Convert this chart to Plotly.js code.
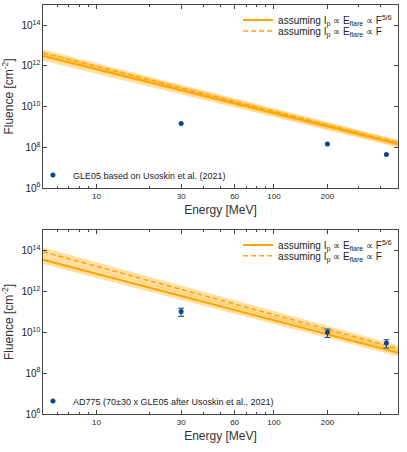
<!DOCTYPE html>
<html>
<head>
<meta charset="UTF-8">
<script src="https://cdn.plot.ly/plotly-3.0.1.min.js"></script>
<style>
  body { margin: 0; background: #fff; }
  #chart { width: 407px; height: 452px; }
</style>
</head>
<body>
<div id="chart"></div>
<script>
// energy end points of the model lines (MeV)
const lineE = [5, 500];

// top panel: GLE05
const topSolid = [3.1e12, 1.5e8];
const topSolidLo = [1.8e12, 1.0e8];
const topSolidHi = [5.0e12, 2.2e8];
const topDashed = [4.5e12, 1.65e8];
const topDashedLo = [2.8e12, 1.1e8];
const topDashedHi = [6.5e12, 2.3e8];

// bottom panel: AD775
const botSolid = [3.5e13, 1.0e9];
const botSolidLo = [2.2e13, 6.8e8];
const botSolidHi = [5.5e13, 1.5e9];
const botDashed = [8.7e13, 1.6e9];
const botDashedLo = [5.5e13, 1.1e9];
const botDashedHi = [1.4e14, 2.3e9];

// measured points
const pointE = [30, 200, 430];
const gle05 = [1.5e9, 1.45e8, 4.4e7];
const ad775 = [1.05e11, 1.0e10, 3.0e9];
const ad775Err = [4.5e10, 4.4e9, 1.3e9];

const orange = '#FFA500';
const band = 'rgba(255,172,10,0.38)';
const navy = '#0E4392';

const solidName = 'assuming I<sub>p</sub> ∝ E<sub>flare</sub> ∝ F<sup>5/6</sup>';
const dashedName = 'assuming I<sub>p</sub> ∝ E<sub>flare</sub> ∝ F';

function bandTraces(lo, hi, xa, ya) {
  return [
    { x: lineE, y: lo, xaxis: xa, yaxis: ya, mode: 'lines', line: { width: 0, color: band }, showlegend: false, hoverinfo: 'skip' },
    { x: lineE, y: hi, xaxis: xa, yaxis: ya, mode: 'lines', line: { width: 0, color: band }, fill: 'tonexty', fillcolor: band, showlegend: false, hoverinfo: 'skip' }
  ];
}

const data = [
  ...bandTraces(topSolidLo, topSolidHi, 'x', 'y'),
  ...bandTraces(topDashedLo, topDashedHi, 'x', 'y'),
  { x: lineE, y: topSolid, xaxis: 'x', yaxis: 'y', mode: 'lines', name: solidName, line: { color: orange, width: 2 }, legend: 'legend' },
  { x: lineE, y: topDashed, xaxis: 'x', yaxis: 'y', mode: 'lines', name: dashedName, line: { color: orange, width: 1.5, dash: '5px,3px' }, legend: 'legend2' },
  { x: pointE, y: gle05, xaxis: 'x', yaxis: 'y', mode: 'markers', name: 'GLE05 based on Usoskin et al. (2021)', marker: { color: navy, size: 5 }, legend: 'legend3' },

  ...bandTraces(botSolidLo, botSolidHi, 'x2', 'y2'),
  ...bandTraces(botDashedLo, botDashedHi, 'x2', 'y2'),
  { x: lineE, y: botSolid, xaxis: 'x2', yaxis: 'y2', mode: 'lines', name: solidName, line: { color: orange, width: 2 }, legend: 'legend4' },
  { x: lineE, y: botDashed, xaxis: 'x2', yaxis: 'y2', mode: 'lines', name: dashedName, line: { color: orange, width: 1.5, dash: '5px,3px' }, legend: 'legend5' },
  { x: pointE, y: ad775, xaxis: 'x2', yaxis: 'y2', mode: 'markers', name: 'AD775 (70±30 x GLE05 after Usoskin et al., 2021)',
    error_y: { type: 'data', array: ad775Err, color: navy, thickness: 1, width: 3 },
    marker: { color: navy, size: 5 }, legend: 'legend6' }
];

const fontFam = '"Liberation Sans", Arial, sans-serif';

function xAxis(anchor, dom) {
  return {
    type: 'log', range: [Math.log10(5), Math.log10(500)], domain: dom, anchor: anchor,
    tickmode: 'array', tickvals: [10, 30, 60, 100, 200], ticktext: ['10', '30', '60', '100', '200'],
    ticks: 'inside', ticklen: 4, tickcolor: '#444',
    minor: { tickmode: 'array', tickvals: [6, 7, 8, 9, 20, 40, 50, 70, 80, 90, 300, 400], ticks: 'inside', ticklen: 2, tickcolor: '#444' },
    showline: true, linecolor: '#444', linewidth: 1, mirror: 'ticks', showgrid: false, zeroline: false,
    tickfont: { size: 8, color: '#222' },
    title: { text: 'Energy [MeV]', font: { size: 12, color: '#333' }, standoff: 5 }
  };
}
function yAxis(anchor, dom) {
  return {
    type: 'log', range: [6, 15], domain: dom, anchor: anchor, dtick: 2, exponentformat: 'power',
    ticks: 'inside', ticklen: 4, tickcolor: '#444',
    showline: true, linecolor: '#444', linewidth: 1, mirror: 'ticks', showgrid: false, zeroline: false,
    tickfont: { size: 8, color: '#222' },
    title: { text: 'Fluence [cm<sup>-2</sup>]', font: { size: 12, color: '#333' }, standoff: 7 }
  };
}

function legendAt(x, y, size) {
  return { x: x, y: y, xanchor: 'left', yanchor: 'middle', bgcolor: 'rgba(0,0,0,0)', borderwidth: 0,
           font: { size: size, family: fontFam, color: '#222' }, itemwidth: 30 };
}

const layout = {
  width: 407, height: 452,
  margin: { l: 0, r: 0, t: 0, b: 0 },
  paper_bgcolor: '#fff', plot_bgcolor: '#fff',
  font: { family: fontFam },
  showlegend: true,
  xaxis: xAxis('y', [0.1057, 0.978]),
  yaxis: yAxis('x', [0.584, 0.989]),
  xaxis2: xAxis('y2', [0.1057, 0.978]),
  yaxis2: yAxis('x2', [0.084, 0.491]),
  legend: legendAt(0.585, 0.9558, 10),
  legend2: legendAt(0.585, 0.9314, 10),
  legend3: legendAt(0.081, 0.6128, 9),
  legend4: legendAt(0.585, 0.458, 10),
  legend5: legendAt(0.585, 0.434, 10),
  legend6: legendAt(0.081, 0.1128, 9)
};

Plotly.newPlot('chart', data, layout, { displayModeBar: false, staticPlot: true });
</script>
</body>
</html>
